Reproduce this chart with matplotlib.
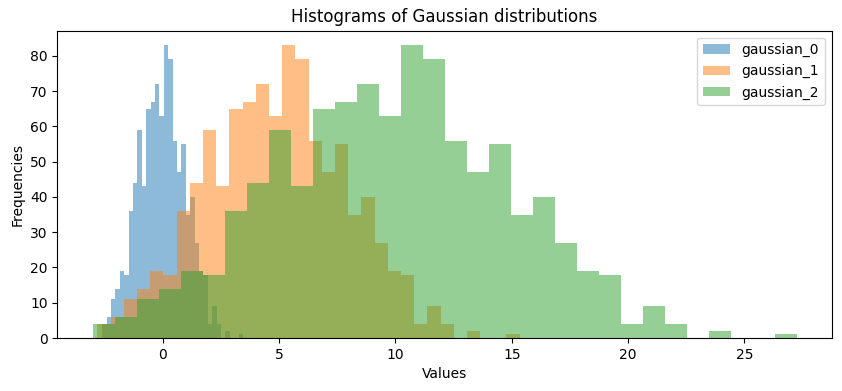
import numpy as np
import matplotlib
matplotlib.use("Agg")
import matplotlib.pyplot as plt

labels = ["gaussian_0", "gaussian_1", "gaussian_2"]

# bin ranges (min, max) for each series, 32 bins each
ranges = [(-2.604, 3.448), (-2.81, 15.34), (-3.02, 27.24)]
n_bins = 32

counts_0 = [4, 6, 11, 14, 19, 18, 36, 44, 59, 43, 65, 67, 72, 63, 83, 79,
            56, 47, 55, 35, 40, 27, 19, 18, 4, 9, 4, 0, 2, 0, 0, 1]
counts_1 = [4, 6, 11, 14, 19, 18, 36, 44, 59, 43, 65, 67, 72, 63, 83, 79,
            56, 47, 55, 35, 40, 27, 19, 18, 4, 9, 4, 0, 2, 0, 0, 1]
counts_2 = [4, 6, 11, 14, 19, 18, 36, 44, 59, 43, 65, 67, 72, 63, 83, 79,
            56, 47, 55, 35, 40, 27, 19, 18, 4, 9, 4, 0, 2, 0, 0, 1]
all_counts = [counts_0, counts_1, counts_2]

fig = plt.figure(figsize=(8.42, 3.91), dpi=100)
ax = fig.add_axes([0.0681, 0.1355, 0.9197, 0.786])

for lab, (lo, hi), cnt in zip(labels, ranges, all_counts):
    edges = np.linspace(lo, hi, n_bins + 1)
    centers = (edges[:-1] + edges[1:]) / 2
    ax.hist(centers, bins=edges, weights=cnt, alpha=0.5, label=lab)

ax.set_title("Histograms of Gaussian distributions")
ax.set_xlabel("Values")
ax.set_ylabel("Frequencies")
ax.legend(loc="upper right")

fig.savefig("out.png", dpi=100)
